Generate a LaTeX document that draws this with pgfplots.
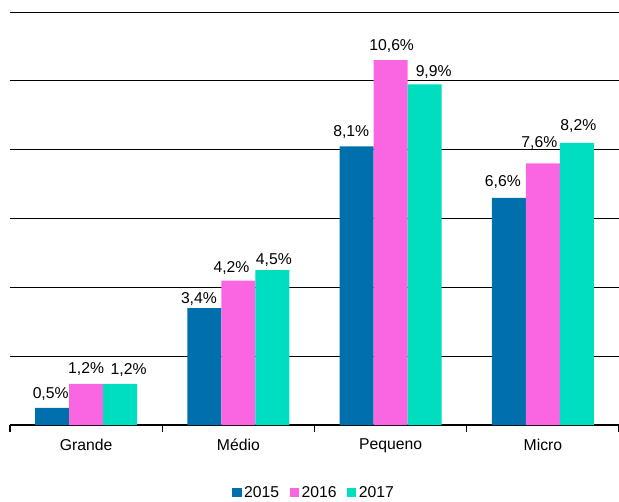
\documentclass[border=0pt]{standalone}
\usepackage{fontspec}
\setmainfont{Liberation Sans}
\usepackage{pgfplots}
\pgfplotsset{compat=1.18}
\definecolor{c15}{RGB}{0,112,173}
\definecolor{c16}{RGB}{250,102,225}
\definecolor{c17}{RGB}{0,222,192}
\begin{document}
\fontsize{11.8}{14}\selectfont
\begin{tikzpicture}
\useasboundingbox (-7.5pt,-57pt) rectangle (457pt,319pt);
\begin{axis}[
  at={(0pt,0pt)}, anchor=south west,
  scale only axis, width=457pt, height=310pt,
  ybar=0pt, bar width=25.5pt,
  xmin=-0.5, xmax=3.5, ymin=0, ymax=12,
  axis x line=bottom, axis y line=left,
  x axis line style={-, line width=1pt},
  y axis line style={draw=none},
  ytick={2,4,...,12}, yticklabels={}, ytick style={draw=none},
  ymajorgrids, grid style={black, line width=0.6pt},
  xtick={0,1,2,3}, xticklabels={Grande,Médio,Pequeno,Micro},
  xtick style={draw=none},
  extra x ticks={-0.5,0.5,1.5,2.5,3.5},
  extra x tick labels={},
  extra x tick style={xtick style={draw=black, line width=0.8pt}},
  major tick length=5pt,
  tick align=outside,
  xticklabel style={font=\fontsize{11.8}{14}\selectfont, yshift=-1pt},
  /pgf/number format/assume math mode=true,
  visualization depends on={value \thisrow{dx}\as\dx},
  visualization depends on={value \thisrow{dy}\as\dy},
  nodes near coords={\pgfmathprintnumber[fixed,fixed zerofill,precision=1,use comma]{\pgfplotspointmeta}\%},
  nodes near coords align={anchor=base},
  every node near coord/.append style={font=\fontsize{11.8}{14}\selectfont, black,
    inner sep=0pt, anchor=base, xshift=\dx pt, yshift=\dy pt},
  legend style={at={(0.5,-0.165)}, anchor=center, draw=none, legend columns=3,
    font=\fontsize{11.8}{14}\selectfont,
    /tikz/every even column/.append style={column sep=6pt}},
  legend image code/.code={\fill[#1] (0pt,-2.5pt) rectangle (6.8pt,4.3pt);},
]
% dx, dy: label offsets (pt)
\addplot[fill=c15, draw=none] table {
x y dx dy
0 0.5 -1.1 6.8
1 3.4 -4.1 3.8
2 8.1 -4.1 7.5
3 6.6 -4.5 8.3
};
\addlegendentry{2015}
\addplot[fill=c16, draw=none] table {
x y dx dy
0 1.2 0 7.5
1 4.2 -5.2 6
2 10.6 0.8 7.5
3 7.6 -2.6 12
};
\addlegendentry{2016}
\addplot[fill=c17, draw=none] table {
x y dx dy
0 1.2 6.4 6.8
1 4.5 1.1 4.5
2 9.9 6.8 6
3 8.2 1.1 9
};
\addlegendentry{2017}
\end{axis}
\end{tikzpicture}
\end{document}
